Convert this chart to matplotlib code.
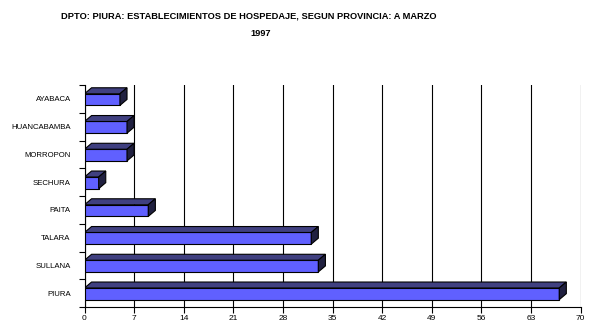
import matplotlib
matplotlib.use("Agg")
import matplotlib.pyplot as plt
from matplotlib.patches import Polygon
from matplotlib.ticker import MultipleLocator, FixedLocator

provincias = ["PIURA", "SULLANA", "TALARA", "PAITA", "SECHURA",
              "MORROPON", "HUANCABAMBA", "AYABACA"]
establecimientos = [67, 33, 32, 9, 2, 6, 6, 5]
xticks = list(range(0, 71, 7))

FRONT = "#6060ff"
TOP = "#404080"
SIDE = "#202040"
DX, DY = 1.0, 0.215   # 3d depth in data units
H = 0.42              # bar thickness

plt.rcParams['font.family'] = ['Liberation Sans', 'DejaVu Sans']

fig = plt.figure(figsize=(5.96, 3.35), dpi=100)
ax = fig.add_axes([84.5 / 596, 28 / 335, 496 / 596, 222 / 335])

pos = list(range(len(provincias)))
ax.barh([p - 0.025 for p in pos], establecimientos, height=H, color=FRONT,
        edgecolor="black", linewidth=0.8, zorder=3)

for p, v in zip(pos, establecimientos):
    y0 = p - 0.025 - H / 2
    y1 = y0 + H
    top = Polygon([(0, y1), (v, y1), (v + DX, y1 + DY), (DX, y1 + DY)],
                  closed=True, facecolor=TOP, edgecolor="black", linewidth=0.8, zorder=3)
    side = Polygon([(v, y0), (v, y1), (v + DX, y1 + DY), (v + DX, y0 + DY)],
                   closed=True, facecolor=SIDE, edgecolor="black", linewidth=0.8, zorder=3)
    ax.add_patch(top)
    ax.add_patch(side)

ax.set_xlim(0, 70)
ax.set_ylim(-0.5, len(provincias) - 0.5)
ax.xaxis.set_major_locator(FixedLocator(xticks))
ax.set_xticklabels([str(t) for t in xticks], fontsize=6)
ax.set_yticks(pos)
ax.set_yticklabels(provincias, fontsize=5.6)
ax.yaxis.set_minor_locator(MultipleLocator(1, offset=0.5))
ax.tick_params(axis="y", which="major", length=0, pad=10)
ax.tick_params(axis="y", which="minor", length=4, width=0.8, direction="out")
ax.tick_params(axis="x", length=4, width=0.8, direction="out", pad=2)

ax.grid(axis="x", color="black", linewidth=0.8)
ax.set_axisbelow(True)
for s in ["top", "right"]:
    ax.spines[s].set_visible(False)
for s in ["left", "bottom"]:
    ax.spines[s].set_linewidth(0.8)

fig.text(249 / 596, 1 - 16 / 335,
         "DPTO: PIURA: ESTABLECIMIENTOS DE HOSPEDAJE, SEGUN PROVINCIA: A MARZO",
         ha="center", va="center", fontsize=6.7, fontweight="bold")
fig.text(261 / 596, 1 - 34 / 335, "1997",
         ha="center", va="center", fontsize=6.7, fontweight="bold")

fig.savefig("out.png", dpi=100)
